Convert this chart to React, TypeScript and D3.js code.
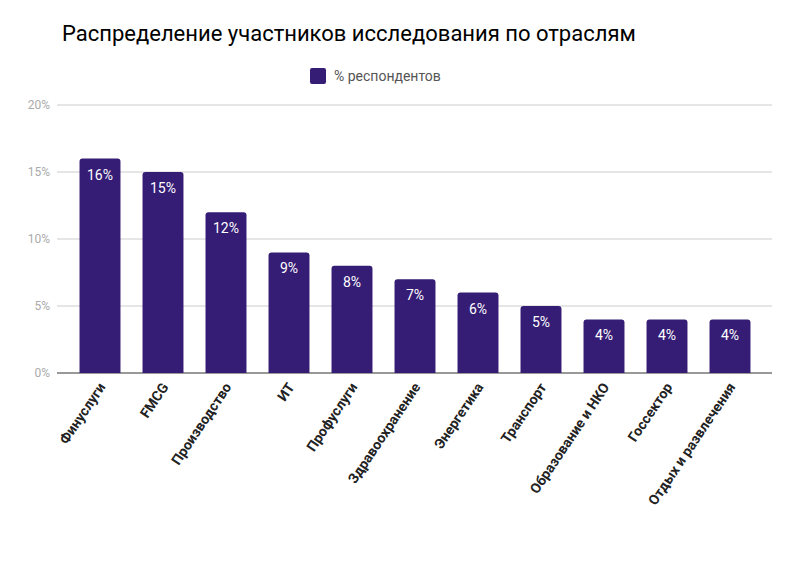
import * as d3 from "d3";

const categories = ["Финуслуги", "FMCG", "Производство", "ИТ", "Профуслуги", "Здравоохранение", "Энергетика", "Транспорт", "Образование и НКО", "Госсектор", "Отдых и развлечения"];
const values = [16, 15, 12, 9, 8, 7, 6, 5, 4, 4, 4];
const yTicks = [0, 5, 10, 15, 20];

export default function App() {
  const W = 805, H = 566;
  const left = 57, right = 772, top = 105, bottom = 373;
  const x = d3.scaleBand<string>().domain(categories).range([68.5, 761.5]).paddingInner(0.35).paddingOuter(0.175);
  const y = d3.scaleLinear().domain([0, 20]).range([bottom, top]);
  const font = "Roboto, sans-serif";
  return (
    <svg width={W} height={H} style={{ position: "absolute", left: 0, top: 0, background: "#fff" }} fontFamily={font}>
      <text x={62} y={41} fontSize={22} fill="#000">Распределение участников исследования по отраслям</text>
      <rect x={310} y={68} width={16} height={16} rx={2} fill="#351c75" />
      <text x={334} y={81} fontSize={14} fill="#555">% респондентов</text>
      {yTicks.map(t => (
        <g key={t}>
          <line x1={left} x2={right} y1={y(t)} y2={y(t)} stroke={t === 0 ? "#333" : "#ccc"} strokeWidth={1} />
          <text x={50} y={y(t) + 4} textAnchor="end" fontSize={12} fill="#aaa">{t}%</text>
        </g>
      ))}
      {categories.map((c, i) => {
        const bx = x(c)!, bw = x.bandwidth(), v = values[i];
        const cx = bx + bw / 2;
        return (
          <g key={c}>
            <path d={`M${bx},${bottom}V${y(v) + 3}Q${bx},${y(v)} ${bx + 3},${y(v)}H${bx + bw - 3}Q${bx + bw},${y(v)} ${bx + bw},${y(v) + 3}V${bottom}Z`} fill="#351c75" />
            <text x={cx} y={y(v) + 21} textAnchor="middle" fontSize={14} fill="#fff">{v}%</text>
            <text transform={`translate(${cx + 6},${bottom + 14}) rotate(-56)`} textAnchor="end" fontSize={14} fontWeight="bold" fill="#222">{c}</text>
          </g>
        );
      })}
    </svg>
  );
}
